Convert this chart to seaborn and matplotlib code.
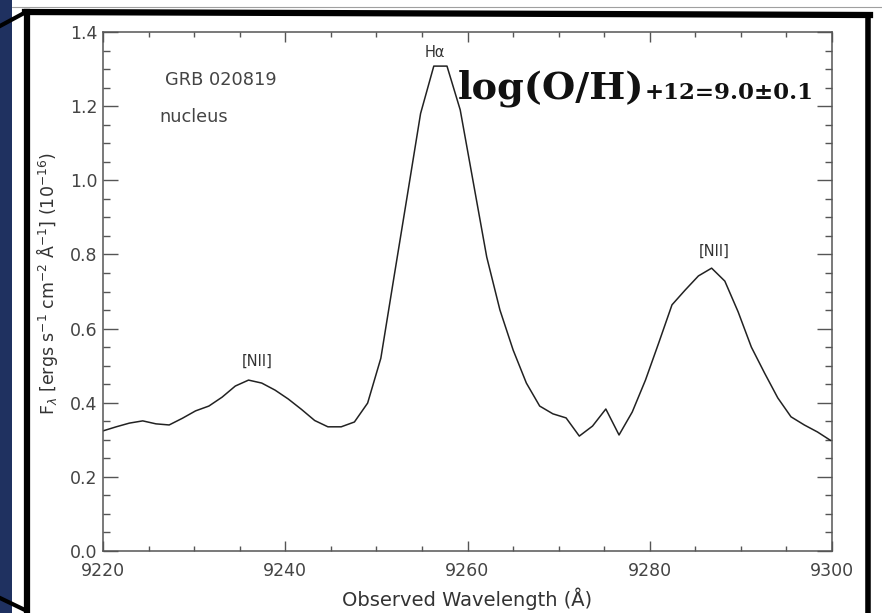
import matplotlib
matplotlib.use("Agg")
import numpy as np
import pandas as pd
import seaborn as sns
import matplotlib.pyplot as plt
from matplotlib.lines import Line2D
from matplotlib.patches import Rectangle

# ---------------- data ----------------
wavelength = [9220.00, 9221.45, 9222.90, 9224.36, 9225.81, 9227.26, 9228.71, 9230.16,
              9231.62, 9233.07, 9234.52, 9235.97, 9237.42, 9238.88, 9240.33, 9241.78,
              9243.23, 9244.68, 9246.14, 9247.59, 9249.04, 9250.49, 9251.94, 9253.40,
              9254.85, 9256.30, 9257.75, 9259.20, 9260.66, 9262.11, 9263.56, 9265.01,
              9266.46, 9267.92, 9269.37, 9270.82, 9272.27, 9273.72, 9275.18, 9276.63,
              9278.08, 9279.53, 9280.98, 9282.44, 9283.89, 9285.34, 9286.79, 9288.24,
              9289.70, 9291.15, 9292.60, 9294.05, 9295.50, 9296.96, 9298.41, 9299.86]
flux = [0.324, 0.335, 0.345, 0.351, 0.343, 0.340, 0.358, 0.378,
        0.391, 0.415, 0.445, 0.461, 0.453, 0.434, 0.410, 0.382,
        0.352, 0.335, 0.335, 0.348, 0.399, 0.520, 0.740, 0.960,
        1.180, 1.308, 1.308, 1.190, 0.991, 0.793, 0.650, 0.542,
        0.453, 0.391, 0.370, 0.359, 0.310, 0.337, 0.383, 0.313,
        0.375, 0.461, 0.561, 0.664, 0.704, 0.742, 0.763, 0.728,
        0.645, 0.550, 0.480, 0.413, 0.362, 0.340, 0.321, 0.298]

x_ticks = [9220, 9240, 9260, 9280, 9300]
y_ticks = [0.0, 0.2, 0.4, 0.6, 0.8, 1.0, 1.2, 1.4]
x_tick_labels = ["9220", "9240", "9260", "9280", "9300"]
y_tick_labels = ["0.0", "0.2", "0.4", "0.6", "0.8", "1.0", "1.2", "1.4"]

line_names = ["[NII]", "H\u03b1", "[NII]"]
line_name_x = [9236.95, 9256.4, 9287.1]
line_name_y = [0.511, 1.345, 0.808]

object_lines = ["GRB 020819", "nucleus"]
object_x = [9226.8, 9226.2]
object_y = [1.270, 1.171]

abundance_main = "log(O/H)"
abundance_rest = "+12=9.0\u00b10.1"

# ---------------- figure ----------------
sns.set_style("white")
plt.rcParams["font.family"] = ["DejaVu Sans"]

W, H = 882, 613
fig = plt.figure(figsize=(W / 100, H / 100), dpi=100)
fig.patch.set_facecolor("white")

def fx(px):
    return px / W

def fy(py):
    return 1 - py / H

# slide decorations
fig.add_artist(Rectangle((0, 0), fx(12), 1, transform=fig.transFigure,
                         facecolor="#1f3160", edgecolor="none", zorder=0))
fig.add_artist(Line2D([fx(12), fx(882)], [fy(7), fy(7)], transform=fig.transFigure,
                      color="#a0a0a0", lw=0.8, zorder=1))
frame_kw = dict(transform=fig.transFigure, color="black", solid_capstyle="projecting", zorder=5)
fig.add_artist(Line2D([fx(25), fx(870)], [fy(12), fy(15)], lw=4.5, **frame_kw))
fig.add_artist(Line2D([fx(27), fx(27)], [fy(12), fy(613)], lw=4.5, **frame_kw))
fig.add_artist(Line2D([fx(868), fx(868)], [fy(15), fy(613)], lw=4.0, **frame_kw))
fig.add_artist(Line2D([fx(0), fx(26)], [fy(26), fy(12)], lw=3.0, **frame_kw))
fig.add_artist(Line2D([fx(0), fx(27)], [fy(598), fy(611)], lw=3.0, **frame_kw))

ax = fig.add_axes([fx(103), fy(551), fx(832) - fx(103), (551 - 32) / H])
ax.set_facecolor("white")

df = pd.DataFrame({"wavelength": wavelength, "flux": flux})
sns.lineplot(data=df, x="wavelength", y="flux", ax=ax, color="#222222",
             linewidth=1.1, sort=False)

ax.set_xlim(9220, 9300)
ax.set_ylim(0.0, 1.4)
ax.set_xticks(x_ticks)
ax.set_xticklabels(x_tick_labels)
ax.set_yticks(y_ticks)
ax.set_yticklabels(y_tick_labels)
ax.set_xticks(np.arange(9220, 9301, 5), minor=True)
ax.set_yticks(np.arange(0.0, 1.401, 0.05), minor=True)

axis_col = "#555555"
for s in ax.spines.values():
    s.set_color(axis_col)
    s.set_linewidth(1.1)
    s.set_visible(True)

ax.tick_params(axis="x", which="major", direction="in", length=7.5, width=1.0,
               color=axis_col, top=True, bottom=True, labelsize=12.5,
               labelcolor="#444444", pad=8)
ax.tick_params(axis="x", which="minor", direction="in", length=3.8, width=1.0,
               color=axis_col, top=True, bottom=True)
ax.tick_params(axis="y", which="major", direction="in", length=10.5, width=1.0,
               color=axis_col, left=True, right=True, labelsize=12.5,
               labelcolor="#444444", pad=4)
ax.tick_params(axis="y", which="minor", direction="in", length=5.2, width=1.0,
               color=axis_col, left=True, right=True)

ax.set_xlabel("Observed Wavelength (\u00c5)", fontsize=14, color="#333333")
ax.set_ylabel(r"F$_\lambda$ [ergs s$^{-1}$ cm$^{-2}$ $\mathrm{\AA}^{-1}$] (10$^{-16}$)",
              fontsize=12.5, color="#333333")
ax.xaxis.set_label_coords(0.5, -0.07)
ax.yaxis.set_label_coords(-0.059, 0.515)

for name, lx, ly in zip(line_names, line_name_x, line_name_y):
    ax.text(lx, ly, name, ha="center", va="center", fontsize=10.5, color="#333333")

for t, tx, ty in zip(object_lines, object_x, object_y):
    ax.text(tx, ty, t, ha="left", va="center", fontsize=12.8, color="#444444")

t1 = ax.text(9258.95, 1.220, abundance_main, ha="left", va="baseline",
             fontsize=27.5, fontweight="bold", family="DejaVu Serif", color="#111111")
fig.canvas.draw()
bb = t1.get_window_extent(renderer=fig.canvas.get_renderer())
x_end = ax.transData.inverted().transform((bb.x1, bb.y0))[0]
ax.text(x_end, 1.220, abundance_rest, ha="left", va="baseline",
        fontsize=16.5, fontweight="bold", family="DejaVu Serif", color="#111111")

fig.savefig("out.png", dpi=100, facecolor="white")
